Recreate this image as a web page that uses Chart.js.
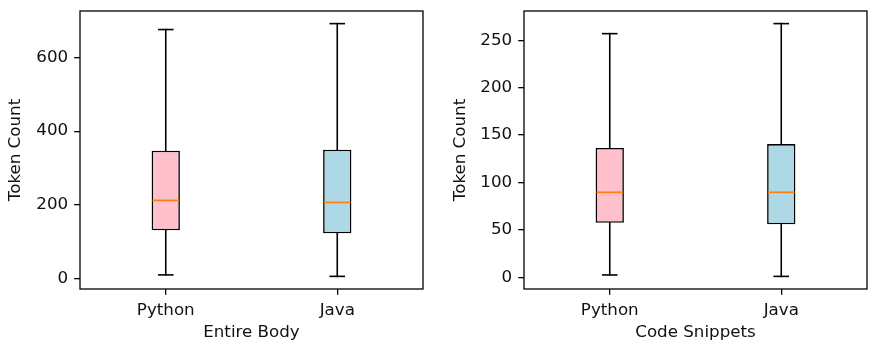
<!DOCTYPE html>
<html>
<head>
<meta charset="utf-8">
<script src="https://cdn.jsdelivr.net/npm/chart.js@4/dist/chart.umd.min.js"></script>
<style>
  body { margin: 0; background: #fff; }
  canvas { position: absolute; top: 0; }
  #bodyChart { left: 0; }
  #snippetChart { left: 440px; }
</style>
</head>
<body>
<canvas id="bodyChart" width="440" height="343"></canvas>
<canvas id="snippetChart" width="433" height="343"></canvas>
<script>
// data
const categories = ['Python', 'Java'];
const boxColors = ['#FFC0CB', '#ADD8E6'];

// Entire Body
const bodyMin = [11, 7];
const bodyQ1 = [131.5, 123.5];
const bodyMedian = [212.5, 207];
const bodyQ3 = [347, 350];
const bodyMax = [675, 691];
const bodyTicks = [0, 200, 400, 600];

// Code Snippets
const snipMin = [2.5, 1];
const snipQ1 = [57.5, 56];
const snipMedian = [89.7, 89.7];
const snipQ3 = [136.5, 140.5];
const snipMax = [257, 267.6];
const snipTicks = [0, 50, 100, 150, 200, 250];

const FONT = { family: 'DejaVu Sans', size: 16.7 };
const TXT = '#111';

// whiskers, caps, median and frame, drawn through the scales
const boxPlugin = {
  id: 'boxExtras',
  beforeDatasetsDraw(chart) {
    const { ctx, scales: { x, y } } = chart;
    const s = chart.options.plugins.boxExtras;
    ctx.save();
    ctx.strokeStyle = '#000';
    ctx.lineWidth = 1.6;
    ctx.lineCap = 'square';
    s.min.forEach((_, i) => {
      const cx = x.getPixelForValue(i);
      const capHalf = 7;
      const segs = [[s.q3[i], s.max[i]], [s.q1[i], s.min[i]]];
      segs.forEach(([a, b]) => {
        ctx.beginPath();
        ctx.moveTo(cx, y.getPixelForValue(a));
        ctx.lineTo(cx, y.getPixelForValue(b));
        ctx.stroke();
        ctx.beginPath();
        ctx.moveTo(cx - capHalf, y.getPixelForValue(b));
        ctx.lineTo(cx + capHalf, y.getPixelForValue(b));
        ctx.stroke();
      });
    });
    ctx.restore();
  },
  afterDatasetsDraw(chart) {
    const { ctx, chartArea: a, scales: { x, y } } = chart;
    const s = chart.options.plugins.boxExtras;
    const meta = chart.getDatasetMeta(0);
    ctx.save();
    ctx.strokeStyle = '#ff7f0e';
    ctx.lineWidth = 1.7;
    s.median.forEach((m, i) => {
      const bar = meta.data[i];
      const py = y.getPixelForValue(m);
      ctx.beginPath();
      ctx.moveTo(bar.x - bar.width / 2 + 0.8, py);
      ctx.lineTo(bar.x + bar.width / 2 - 0.8, py);
      ctx.stroke();
    });
    ctx.strokeStyle = '#000';
    ctx.lineWidth = 1.3;
    ctx.strokeRect(a.left, a.top, a.right - a.left, a.bottom - a.top);
    ctx.restore();
  }
};

function makeBox(id, stats, ticks, yMin, yMax, xTitle, yAxisWidth, padRight, yTitlePad) {
  return new Chart(document.getElementById(id), {
    type: 'bar',
    data: {
      labels: categories,
      datasets: [{
        data: stats.q1.map((v, i) => [v, stats.q3[i]]),
        backgroundColor: boxColors,
        borderColor: '#000',
        borderWidth: 1.6,
        borderSkipped: false,
        barPercentage: 0.165,
        categoryPercentage: 1
      }]
    },
    options: {
      responsive: false,
      animation: false,
      devicePixelRatio: 1,
      layout: { padding: { left: 0, right: padRight, top: 11, bottom: 0 } },
      plugins: {
        legend: { display: false },
        tooltip: { enabled: false },
        boxExtras: stats
      },
      scales: {
        x: {
          offset: true,
          grid: { offset: false, drawOnChartArea: false, drawTicks: true, tickLength: 5.8, color: '#000', lineWidth: 1.3 },
          border: { display: false },
          ticks: { color: TXT, font: FONT, padding: 6 },
          title: { display: true, text: xTitle, color: TXT, font: FONT, padding: { top: 0, bottom: 0 } },
          afterFit(scale) {
            scale.height = 54;
            scale.paddingLeft = 0;
            scale.paddingRight = 0;
          }
        },
        y: {
          min: yMin,
          max: yMax,
          grid: { drawOnChartArea: false, drawTicks: true, tickLength: 5.8, color: '#000', lineWidth: 1.3 },
          border: { display: false },
          ticks: { color: TXT, font: FONT, padding: 6 },
          title: { display: true, text: 'Token Count', color: TXT, font: FONT, padding: { top: yTitlePad, bottom: 0 } },
          afterBuildTicks(scale) { scale.ticks = ticks.map(v => ({ value: v })); },
          afterFit(scale) {
            scale.width = yAxisWidth;
            scale.paddingTop = 0;
            scale.paddingBottom = 0;
          }
        }
      }
    },
    plugins: [boxPlugin]
  });
}

makeBox('bodyChart',
  { min: bodyMin, q1: bodyQ1, median: bodyMedian, q3: bodyQ3, max: bodyMax },
  bodyTicks, -27.2, 725.2, 'Entire Body', 80, 17, 5.8);

makeBox('snippetChart',
  { min: snipMin, q1: snipQ1, median: snipMedian, q3: snipQ3, max: snipMax },
  snipTicks, -12.3, 280.9, 'Code Snippets', 84, 6, 10.8);
</script>
</body>
</html>
